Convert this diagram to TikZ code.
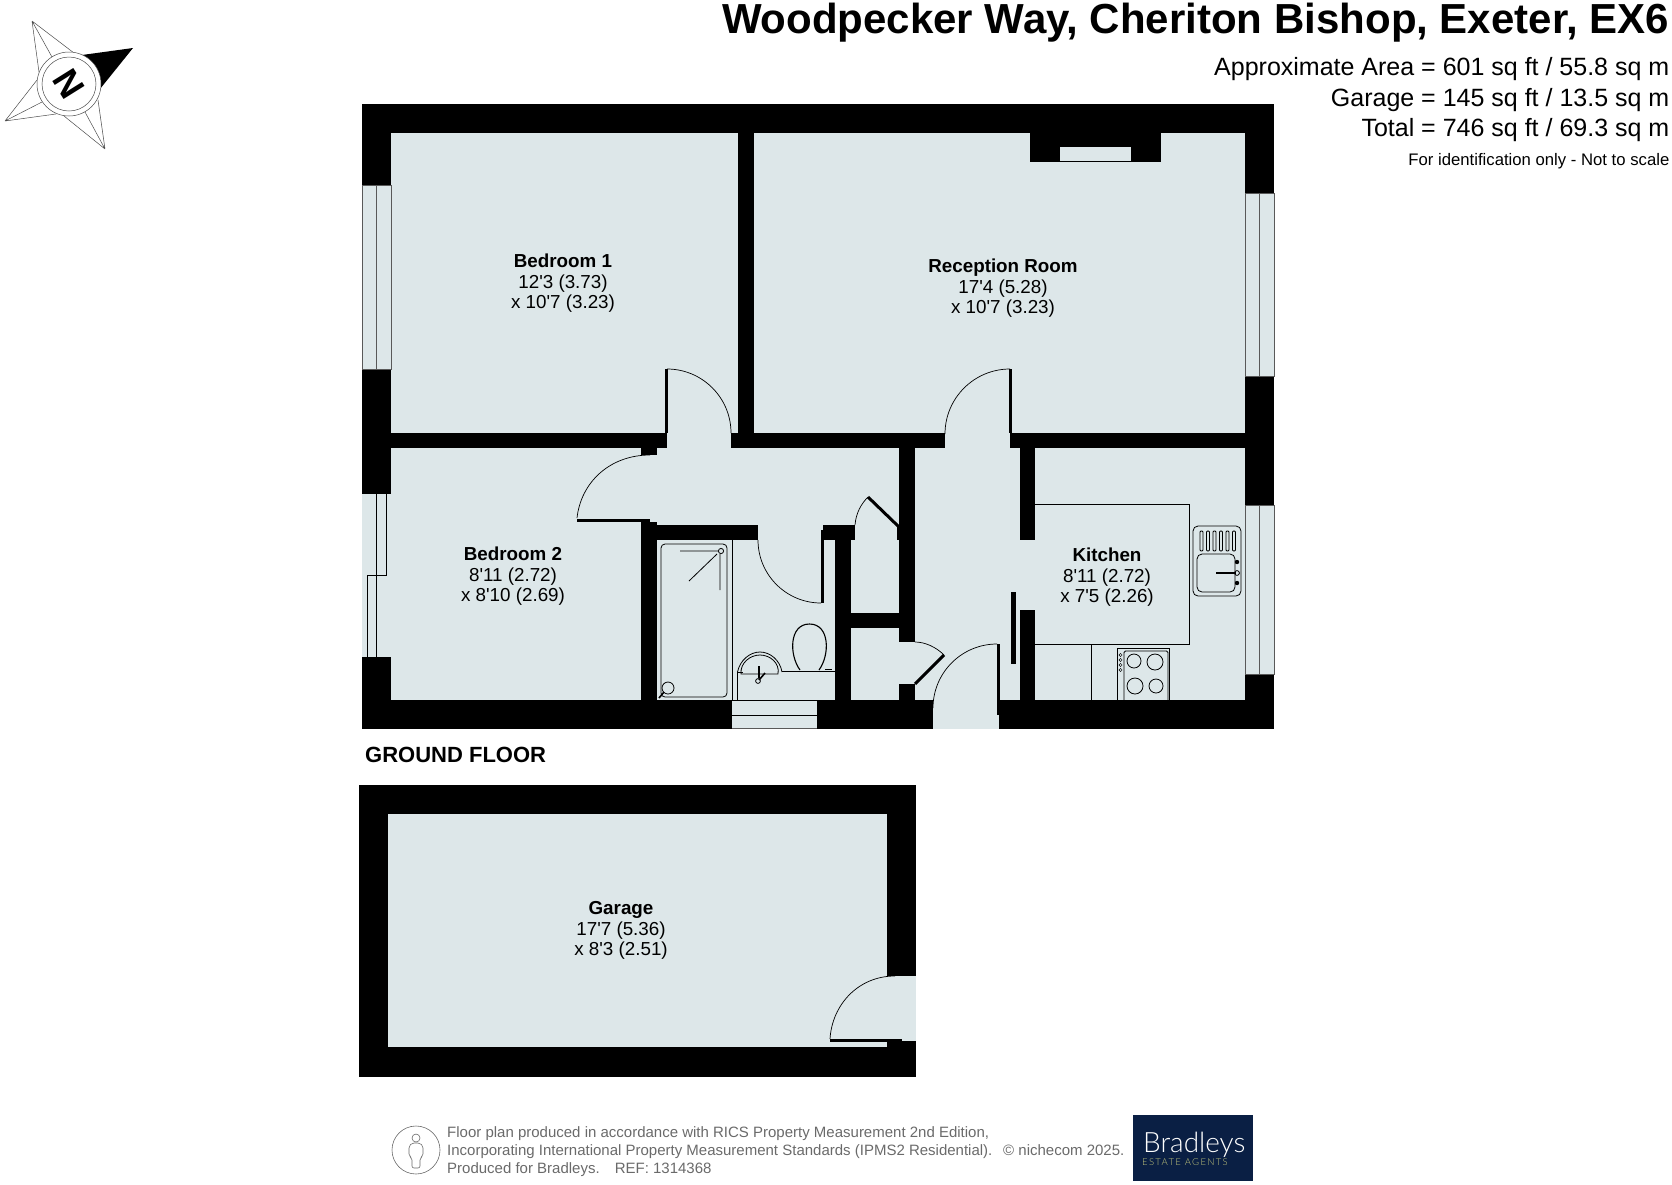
\documentclass[tikz,border=0pt]{standalone}
\usepackage{fontspec}
\setmainfont{Liberation Sans}[Ligatures=TeXOff]
\newfontfamily\logofont{Lato Light}
\newfontfamily\agentsfont{Lato Light}[LetterSpace=14]
\usepackage{tikz}
\definecolor{roomblue}{HTML}{DDE7E9}
\definecolor{logonavy}{HTML}{0A1F44}
\definecolor{logoolive}{HTML}{C4C77C}
\definecolor{footgray}{HTML}{6A6A6A}
\tikzset{
  wall/.style={fill=black},
  room/.style={fill=roomblue},
  glazing/.style={draw=black!65, line width=0.6pt},
  baywindow/.style={draw=black, line width=0.9pt},
  fitting/.style={draw=black, line width=0.8pt},
  swing/.style={draw=black, line width=0.7pt},
  leaf/.style={draw=black, line width=3pt},
  compass/.style={draw=black!70, line width=0.5pt},
  roomlabel/.style={align=center, inner sep=0pt, font=\fontsize{18.8}{20.5}\selectfont},
  headline/.style={anchor=base east, inner sep=0pt},
  footline/.style={anchor=base west, inner sep=0pt, text=footgray, font=\fontsize{15}{17}\selectfont}
}
\begin{document}
\begin{tikzpicture}[x=1pt, y=-1pt]
\useasboundingbox (0,0) rectangle (1672,1184);

% Compass
\draw[compass] (32,21) -- (39,72) (32,21) -- (74,53) (32,21) -- (52,57);
\draw[compass] (5,121) -- (37,80) (5,121) -- (56,114) (5,121) -- (42,102);
\draw[compass] (105,149) -- (64,116) (105,149) -- (98,100) (105,149) -- (85,112);
\fill[wall] (133,48) -- (82,55) -- (100,89) -- cycle;
\fill[white] (69,84) circle[radius=32];
\draw[compass] (69,84) circle[radius=32];
\draw[compass] (69,84) circle[radius=27];
\node[rotate=-58, inner sep=0pt, font=\fontsize{36}{36}\bfseries\selectfont] (north) at (69,84) {N};

% Title block
\node[headline, font=\fontsize{42}{42}\bfseries\selectfont] (title) at (1669,33.5) {Woodpecker Way, Cheriton Bishop, Exeter, EX6};
\node[headline, font=\fontsize{25}{25}\selectfont] (area1) at (1669.5,75) {Approximate Area = 601 sq ft / 55.8 sq m};
\node[headline, font=\fontsize{25}{25}\selectfont] (area2) at (1669.5,106) {Garage = 145 sq ft / 13.5 sq m};
\node[headline, font=\fontsize{25}{25}\selectfont] (area3) at (1669.5,136) {Total = 746 sq ft / 69.3 sq m};
\node[headline, font=\fontsize{16.7}{17}\selectfont] (note) at (1669.5,165) {For identification only - Not to scale};

% Ground floor walls
\fill[wall] (362,104) rectangle (1274,729);

% Ground floor rooms
\fill[room] (391,133) rectangle (738,433);
\fill[room] (754,133) rectangle (1245,433);
\fill[room] (391,448) rectangle (641,700);
\fill[room] (657,448) rectangle (899,525);
\fill[room] (657,540) rectangle (835,700);
\fill[room] (851,540) rectangle (899,613);
\fill[room] (851,628) rectangle (899,700);
\fill[room] (915,448) rectangle (1020,700);
\fill[room] (1035,448) rectangle (1245,700);

% Openings
\fill[room] (667,433) rectangle (731,448);
\fill[room] (945,433) rectangle (1010,448);
\fill[room] (641,455) rectangle (657,522);
\fill[room] (758,525) rectangle (823,540);
\fill[room] (855,525) rectangle (897,540);
\fill[room] (899,642) rectangle (915,684);
\fill[room] (1020,540) rectangle (1035,610);
\fill[room] (933,700) rectangle (999,729);

% Chimney breast
\fill[wall] (1030,133) rectangle (1161,162);
\fill[room] (1060,147) rectangle (1131,161);

% Windows
\fill[room] (362,185) rectangle (391,369);
\draw[glazing] (362,185) rectangle (391,369) (376,185) -- (376,369);
\fill[room] (362,493) rectangle (391,657);
\draw[baywindow] (362,493) -- (391,493) (362,657) -- (391,657) (376,493) -- (376,657);
\draw[baywindow] (386,493) -- (386,575) -- (367,575) -- (367,657);
\fill[room] (1245,193) rectangle (1274,376);
\draw[glazing] (1245,193) rectangle (1274,376) (1259,193) -- (1259,376);
\fill[room] (1245,505) rectangle (1274,674);
\draw[glazing] (1245,505) rectangle (1274,674) (1259,505) -- (1259,674);
\fill[room] (732,700) rectangle (817,729);
\draw[baywindow] (732,700.5) -- (817,700.5) (732,715) -- (817,715);
\draw[glazing] (732,728.5) -- (817,728.5);

% Doors
\draw[swing] (667,369) arc[start angle=-90, end angle=0, radius=64];
\draw[leaf] (666,369) -- (666,433);
\draw[swing] (1010,369) arc[start angle=-90, end angle=-180, radius=65];
\draw[leaf] (1010,369) -- (1010,433);
\draw[swing] (577,518) .. controls (581,482) and (610,455) .. (650,455);
\draw[leaf] (577,520) -- (650,520);
\draw[swing] (758,540) arc[start angle=180, end angle=90, radius=63];
\draw[leaf] (822.5,530) -- (822.5,603);
\draw[swing] (855,525) .. controls (856,513) and (861,504) .. (868,497);
\draw[leaf] (868,497) -- (898,526);
\draw[swing] (915,642) .. controls (925,642) and (936,647) .. (944,655);
\draw[leaf] (915,684) -- (944,655);
\draw[swing] (997,644) arc[start angle=-90, end angle=-180, radius=64];
\draw[leaf] (998.5,644) -- (998.5,715);
\fill[wall] (1011,592) rectangle (1016,664);

% Bathroom
\draw[fitting] (732,540) -- (732,700);
\draw[fitting, rounded corners=4pt] (661,544) rectangle (727,697);
\draw[fitting] (680,551) -- (718,551) (720,554) -- (720,590) (689,581) -- (717,554);
\draw[fitting] (721,551) circle[radius=2.6];
\draw[fitting] (668,688) circle[radius=6];
\draw[fitting, line width=1.6pt] (664,692) -- (659,698);
\draw[fitting] (737,700) -- (737,672) -- (743,672);
\draw[fitting] (737.5,672) .. controls (740,660) and (750,652) .. (760,652) .. controls (770,652) and (780,660) .. (782,672);
\draw[fitting] (741,674) .. controls (740,663) and (750,655) .. (760,655) .. controls (770,655) and (780,663) .. (778,674) -- cycle;
\draw[fitting, line width=1.6pt] (759,666) -- (759,678) (759,680) -- (765,673);
\draw[fitting] (758,681) circle[radius=2.4];
\draw[fitting] (782,671) -- (835,671);
\draw[fitting, line width=1.4pt] (825,669.5) -- (832,669.5);
\draw[fitting, line width=1.1pt] (800,670) .. controls (789,655) and (789,624) .. (809.5,624) .. controls (830,624) and (830,655) .. (819,670);

% Kitchen
\draw[fitting] (1035,504) -- (1189,504) -- (1189,644) -- (1035,644);
\draw[fitting] (1091,644) -- (1091,700);
\draw[fitting] (1117,700) -- (1117,648) -- (1169,648) -- (1169,700);
\draw[fitting, rounded corners=1.5pt] (1124,700) -- (1124,651) -- (1168,651) -- (1168,700);
\foreach \cx/\cy/\cr in {1134/661/7, 1155/662/8, 1135/686/8, 1156/686/7}
  \draw[fitting] (\cx,\cy) circle[radius=\cr];
\foreach \cy in {655,660,665,670}
  \draw[fitting, line width=0.5pt] (1120.5,\cy) circle[radius=1.6];
\draw[fitting, rounded corners=5pt] (1193,526) rectangle (1241,596);
\draw[fitting, rounded corners=5pt] (1197,554) rectangle (1235,592);
\foreach \cx in {1200,1206.5,1213,1219.5,1226,1232.5}
  \draw[fitting, rounded corners=1pt] (\cx,531) rectangle (\cx+3,551);
\draw[fitting, line width=1.8pt] (1216,573) -- (1236,573);
\fill[wall] (1237,562) circle[radius=2.2];
\fill[wall] (1237,583) circle[radius=2.2];
\draw[fitting] (1237,573) circle[radius=2.4];

% Garage
\fill[wall] (359,785) rectangle (916,1077);
\fill[room] (388,814) rectangle (887,1047);
\fill[wall] (887,1041) rectangle (916,1047);
\fill[room] (887,976) rectangle (916,1041);
\draw[swing] (830,1039) .. controls (832,1005) and (858,976) .. (895,976);
\draw[leaf] (830,1040) -- (902,1040);

% Room labels
\node[roomlabel] (bed1) at (563,283.5) {\textbf{Bedroom 1}\\12'3 (3.73)\\x 10'7 (3.23)};
\node[roomlabel] (reception) at (1003,288.5) {\textbf{Reception Room}\\17'4 (5.28)\\x 10'7 (3.23)};
\node[roomlabel] (bed2) at (513,576.5) {\textbf{Bedroom 2}\\8'11 (2.72)\\x 8'10 (2.69)};
\node[roomlabel] (kitchen) at (1107,577.5) {\textbf{Kitchen}\\8'11 (2.72)\\x 7'5 (2.26)};
\node[roomlabel] (garage) at (621,930.5) {\textbf{Garage}\\17'7 (5.36)\\x 8'3 (2.51)};
\node[anchor=base west, inner sep=0pt, font=\fontsize{22}{22}\bfseries\selectfont] (floor) at (365,762) {GROUND FLOOR};

% Footer
\draw[draw=footgray, line width=0.6pt] (416,1150) circle[radius=24];
\draw[draw=footgray, line width=0.6pt] (416,1138) circle[radius=4];
\draw[draw=footgray, line width=0.6pt, rounded corners=2pt] (409,1146) -- (412,1143) -- (420,1143) -- (423,1146) -- (423,1156) -- (420,1158) -- (420,1168) -- (412,1168) -- (412,1158) -- (409,1156) -- cycle;
\node[footline] (foot1) at (447,1137.5) {Floor plan produced in accordance with RICS Property Measurement 2nd Edition,};
\node[footline] (foot2) at (447,1155.5) {Incorporating International Property Measurement Standards (IPMS2 Residential).};
\node[footline] (foot3) at (447,1173.5) {Produced for Bradleys.\quad REF: 1314368};
\node[footline] (niche) at (1003,1155.5) {© nichecom 2025.};

% Logo
\fill[logonavy] (1133,1115) rectangle (1253,1181);
\node[anchor=base west, inner sep=0pt, text=white, font=\logofont\fontsize{28}{28}\selectfont] (brand) at (1143,1152) {Bradleys};
\node[anchor=base west, inner sep=0pt, text=logoolive, font=\agentsfont\fontsize{9.5}{10}\selectfont] (agents) at (1142,1165) {ESTATE AGENTS};
\end{tikzpicture}
\end{document}
